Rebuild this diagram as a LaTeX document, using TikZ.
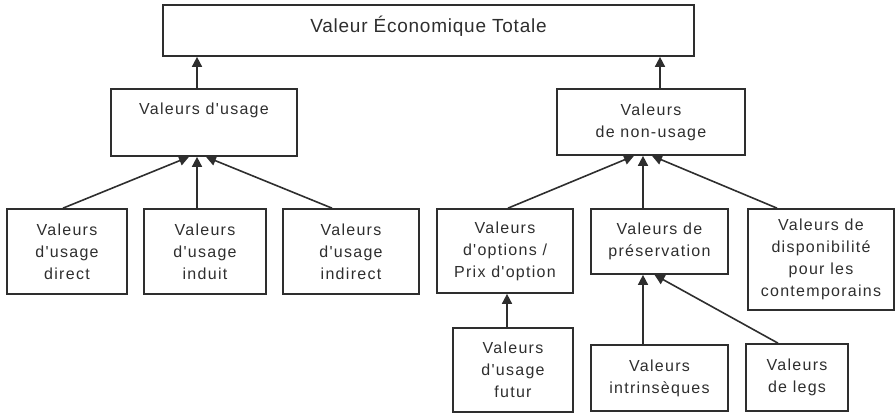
\documentclass[tikz,border=0pt]{standalone}
\usepackage{fontspec}
\setmainfont{Liberation Sans}
\newfontfamily\boxfont[LetterSpace=8]{Liberation Sans}
\newfontfamily\topfont[LetterSpace=4]{Liberation Sans}
\usetikzlibrary{arrows.meta}
\definecolor{ink}{HTML}{2E2E2E}
\tikzset{
  box/.style={draw=ink, line width=1.7pt, rectangle, inner sep=0pt, align=center,
    text=ink, font=\boxfont\fontsize{16}{22}\selectfont},
  arr/.style={draw=ink, line width=1.6pt, -{Triangle[width=10pt,length=10pt]}},
}
\begin{document}
\begin{tikzpicture}[x=1pt,y=-1pt]
\useasboundingbox (0,0) rectangle (896,413);
% boxes
\node[box, minimum width=531pt, minimum height=51pt] (vet) at (428.5,30.5) {};
\node[text=ink, font=\topfont\fontsize{19}{22}\selectfont, inner sep=0pt] (vett) at (428.5,26) {Valeur Économique Totale};
\node[box, minimum width=186pt, minimum height=67pt] (usage) at (204,122.5) {Valeurs d'usage\\ \strut};
\node[box, minimum width=188pt, minimum height=66pt] (nonusage) at (651,122) {Valeurs\\de non-usage};
\node[box, minimum width=120pt, minimum height=85pt] (direct) at (67,251.5) {Valeurs\\d'usage\\direct};
\node[box, minimum width=122pt, minimum height=85pt] (induit) at (205,251.5) {Valeurs\\d'usage\\induit};
\node[box, minimum width=136pt, minimum height=85pt] (indirect) at (351,251.5) {Valeurs\\d'usage\\indirect};
\node[box, minimum width=136pt, minimum height=84pt] (options) at (505,251) {Valeurs\\d'options /\\Prix d'option};
\node[box, minimum width=137pt, minimum height=65pt] (pres) at (659.5,241.5) {Valeurs de\\préservation};
\node[box, minimum width=146pt, minimum height=101pt] (dispo) at (821,259.5) {Valeurs de\\disponibilité\\pour les\\contemporains};
\node[box, minimum width=120pt, minimum height=84pt] (futur) at (513,370) {Valeurs\\d'usage\\futur};
\node[box, minimum width=137pt, minimum height=66pt] (intr) at (659.5,378) {Valeurs\\intrinsèques};
\node[box, minimum width=102pt, minimum height=67pt] (legs) at (797,377.5) {Valeurs\\de legs};
% connectors
\draw[arr] ([xshift=-7pt]usage.north) -- ([xshift=-7pt]usage.north |- vet.south);
\draw[arr] ([xshift=9pt]nonusage.north) -- ([xshift=9pt]nonusage.north |- vet.south);
\draw[arr] ([xshift=-4pt]direct.north) -- ([xshift=-15pt]usage.south);
\draw[arr] ([xshift=-8pt]induit.north) -- ([xshift=-7pt]usage.south);
\draw[arr] ([xshift=-19pt]indirect.north) -- ([xshift=2pt]usage.south);
\draw[arr] ([xshift=3pt]options.north) -- ([xshift=-17pt]nonusage.south);
\draw[arr] ([xshift=-16.5pt]pres.north) -- ([xshift=-8pt]nonusage.south);
\draw[arr] ([xshift=-44pt]dispo.north) -- ([xshift=1pt]nonusage.south);
\draw[arr] ([xshift=-6pt]futur.north) -- ([xshift=-6pt]futur.north |- options.south);
\draw[arr] ([xshift=-16.5pt]intr.north) -- ([xshift=-16.5pt]pres.south);
\draw[arr] ([xshift=-19pt]legs.north) -- ([xshift=-5pt]pres.south);
\end{tikzpicture}
\end{document}
